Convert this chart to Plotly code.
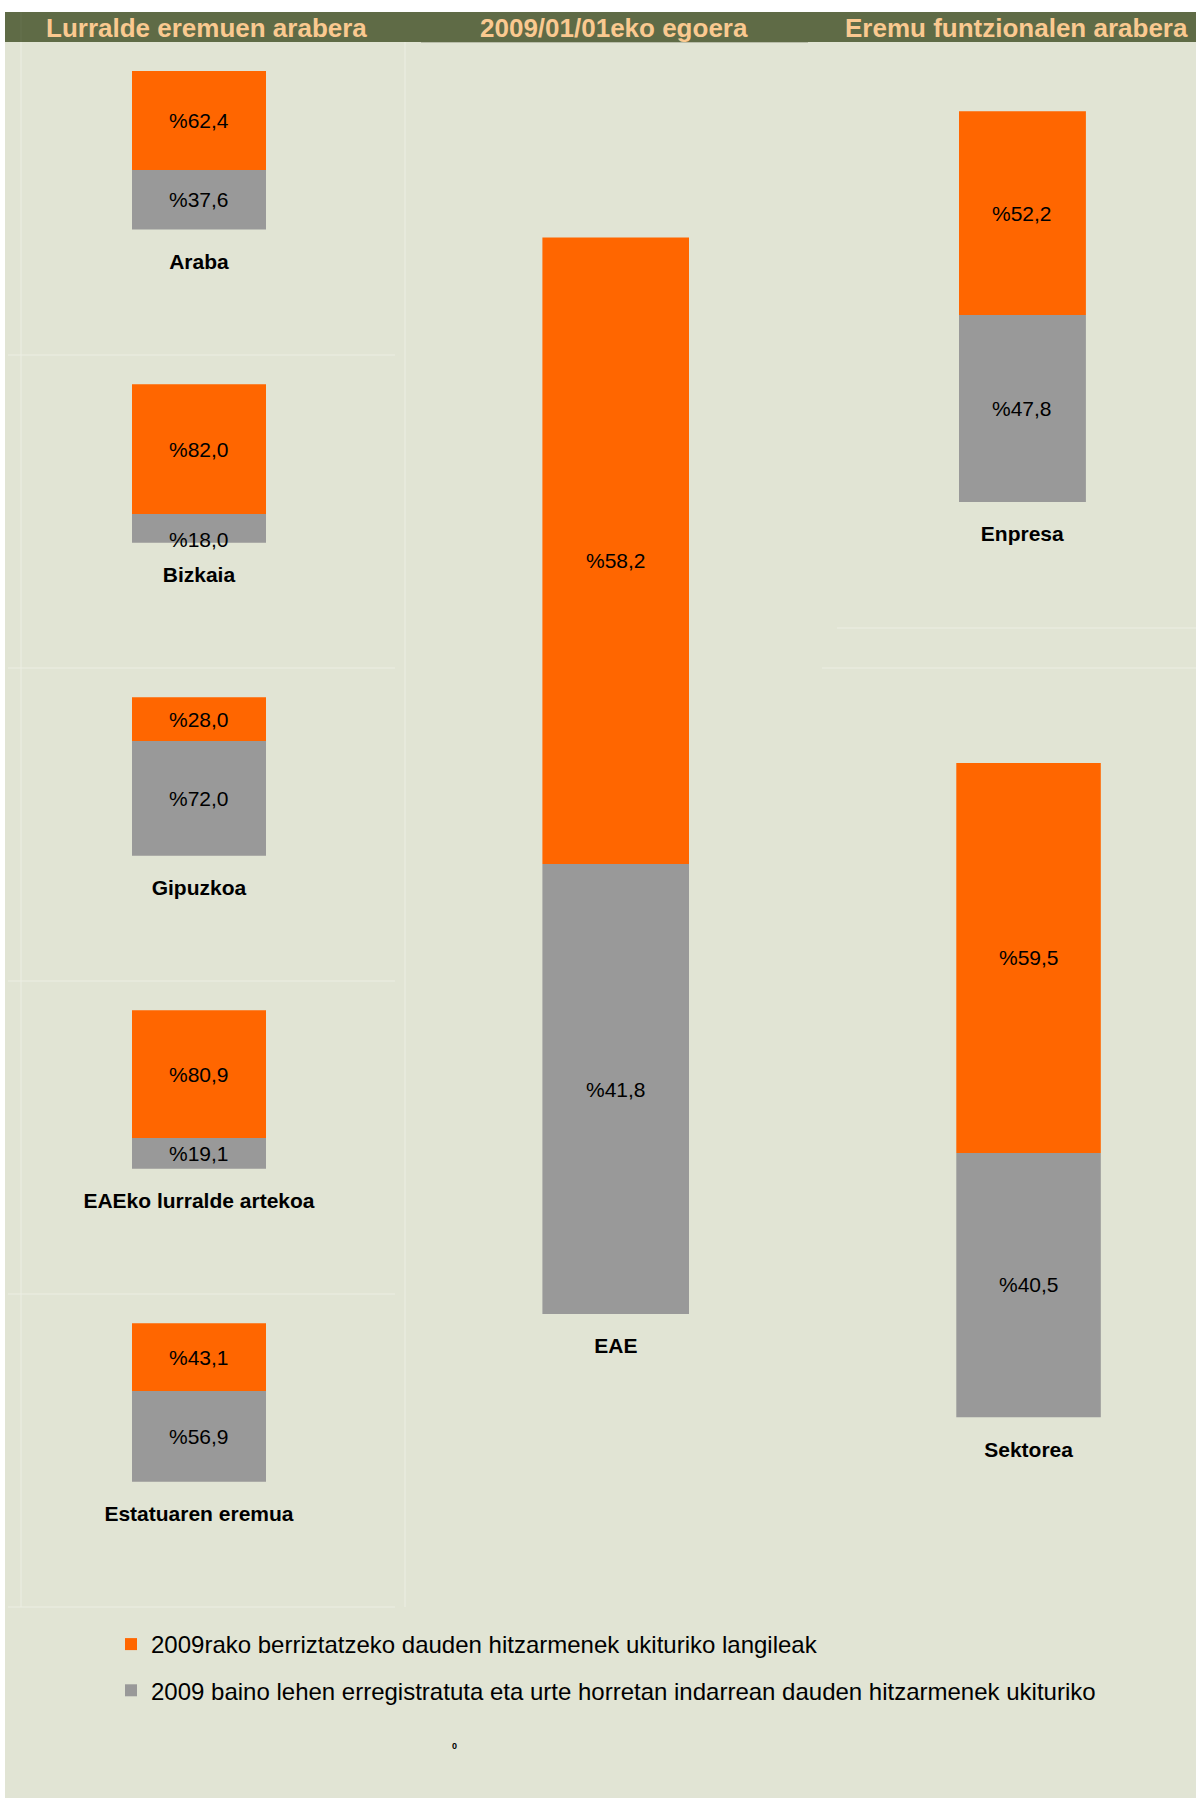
import plotly.graph_objects as go

# ---------------- data ----------------
left_categories = ["Araba", "Bizkaia", "Gipuzkoa", "EAEko lurralde artekoa", "Estatuaren eremua"]
left_renew = [62.4, 82.0, 28.0, 80.9, 43.1]      # orange
left_before = [37.6, 18.0, 72.0, 19.1, 56.9]     # gray

mid_categories = ["EAE"]
mid_renew = [58.2]
mid_before = [41.8]

right_categories = ["Enpresa", "Sektorea"]
right_renew = [52.2, 59.5]
right_before = [47.8, 40.5]

headers = ["Lurralde eremuen arabera", "2009/01/01eko egoera", "Eremu funtzionalen arabera"]
legend_names = [
    "2009rako berriztatzeko dauden hitzarmenek ukituriko langileak",
    "2009 baino lehen erregistratuta eta urte horretan indarrean dauden hitzarmenek ukituriko",
]

# ---------------- style ----------------
W, H = 1196, 1798
ORANGE = "#ff6600"
GRAY = "#999999"
BG = "#e1e4d4"
HEAD = "#5f6b46"
HEADTXT = "#fac990"
LINE = "#eceee3"
FONT = "Liberation Sans, Arial, sans-serif"


def xd(a, b):
    return [a / W, b / W]


def yd(top, bottom):
    return [1 - bottom / H, 1 - top / H]


# panel geometry in pixels
panels = []
for i in range(5):
    top = 71.1 + i * 313.05
    panels.append((left_categories[i], left_renew[i], left_before[i], 131.9, 266.0, top, top + 158.5))
panels.append((mid_categories[0], mid_renew[0], mid_before[0], 542.4, 689.2, 237.4, 1314.1))
panels.append((right_categories[0], right_renew[0], right_before[0], 958.6, 1085.9, 111.2, 502.2))
panels.append((right_categories[1], right_renew[1], right_before[1], 956.3, 1100.8, 762.5, 1417.3))

label_shift = {("EAE", "o"): -10, ("Bizkaia", "g"): -11}

fig = go.Figure()
annotations = []
layout_axes = {}

for k, (cat, ren, bef, x0, x1, top, bot) in enumerate(panels):
    n = k + 1
    xa = "x" if n == 1 else f"x{n}"
    ya = "y" if n == 1 else f"y{n}"
    first = n == 1
    fig.add_trace(go.Bar(
        x=[cat], y=[bef], xaxis=xa, yaxis=ya, marker=dict(color=GRAY, line=dict(width=0)),
        name=legend_names[1], legendgroup="g", legendrank=2, showlegend=first,
        hoverinfo="skip",
    ))
    fig.add_trace(go.Bar(
        x=[cat], y=[ren], xaxis=xa, yaxis=ya, marker=dict(color=ORANGE, line=dict(width=0)),
        name=legend_names[0], legendgroup="o", legendrank=1, showlegend=first,
        hoverinfo="skip",
    ))
    xkey = "xaxis" if n == 1 else f"xaxis{n}"
    ykey = "yaxis" if n == 1 else f"yaxis{n}"
    layout_axes[xkey] = dict(
        domain=xd(x0, x1), anchor=ya, type="category", showgrid=False, zeroline=False,
        showline=False, ticks="outside", ticklen=13, tickcolor="rgba(0,0,0,0)",
        tickfont=dict(family=FONT, size=21, color="#000000", weight="bold"),
        fixedrange=True, automargin=False,
    )
    layout_axes[ykey] = dict(
        domain=yd(top, bot), anchor=xa, range=[0, 100], showgrid=False, zeroline=False,
        showline=False, showticklabels=False, ticks="", fixedrange=True, automargin=False,
    )
    annotations.append(dict(
        x=cat, y=bef / 2, xref=xa, yref=ya, text=f"%{bef:.1f}".replace(".", ","),
        showarrow=False, font=dict(family=FONT, size=21, color="#000000"),
        yshift=label_shift.get((cat, "g"), 0),
    ))
    annotations.append(dict(
        x=cat, y=bef + ren / 2, xref=xa, yref=ya, text=f"%{ren:.1f}".replace(".", ","),
        showarrow=False, font=dict(family=FONT, size=21, color="#000000"),
        yshift=label_shift.get((cat, "o"), 0),
    ))

# header texts
for txt, cx in zip(headers, [206, 614, 1016]):
    annotations.append(dict(
        x=cx / W, y=1 - 27.5 / H, xref="paper", yref="paper", text=f"<b>{txt}</b>",
        showarrow=False, font=dict(family=FONT, size=26, color=HEADTXT),
        xanchor="center", yanchor="middle",
    ))

annotations.append(dict(
    x=454 / W, y=1 - 1753 / H, xref="paper", yref="paper", text="<b>0</b>",
    showarrow=False, font=dict(family=FONT, size=9, color="#000000"),
))


def px_line(x0, y0, x1, y1, color=LINE, width=1):
    return dict(type="line", xref="paper", yref="paper", x0=x0 / W, x1=x1 / W,
                y0=1 - y0 / H, y1=1 - y1 / H, line=dict(color=color, width=width), layer="below")


shapes = [
    dict(type="rect", xref="paper", yref="paper", x0=5 / W, x1=1, y0=0, y1=1 - 12 / H,
         fillcolor=BG, line=dict(width=0), layer="below"),
    dict(type="rect", xref="paper", yref="paper", x0=5 / W, x1=1, y0=1 - 42 / H, y1=1 - 12 / H,
         fillcolor=HEAD, line=dict(width=0), layer="below"),
    px_line(21, 12, 21, 42, color="#67734f"),
    px_line(421, 42.5, 808, 42.5, color="#b9bdaa"),
    px_line(405, 42, 405, 1607),
    px_line(21, 42, 21, 1607),
    px_line(837, 628, 1196, 628),
    px_line(822, 668, 1196, 668),
]
for yy in [355, 668, 981, 1294, 1607]:
    shapes.append(px_line(8, yy, 395, yy))

fig.update_layout(
    width=W, height=H, margin=dict(l=0, r=0, t=0, b=0, pad=0, autoexpand=False),
    paper_bgcolor="#ffffff", plot_bgcolor="rgba(0,0,0,0)",
    barmode="stack", bargap=0,
    showlegend=True,
    legend=dict(
        x=111 / W, y=1 - 1622 / H, xanchor="left", yanchor="top",
        font=dict(family=FONT, size=24, color="#000000"),
        bgcolor="rgba(0,0,0,0)", traceorder="grouped", tracegroupgap=12,
        itemclick=False, itemdoubleclick=False,
    ),
    annotations=annotations,
    shapes=shapes,
    **layout_axes,
)

fig.write_html(
    "out.html",
    config={"displayModeBar": False, "displaylogo": False},
    post_script="document.body.style.margin='0';document.body.style.padding='0';"
                "document.body.style.overflow='hidden';",
)
